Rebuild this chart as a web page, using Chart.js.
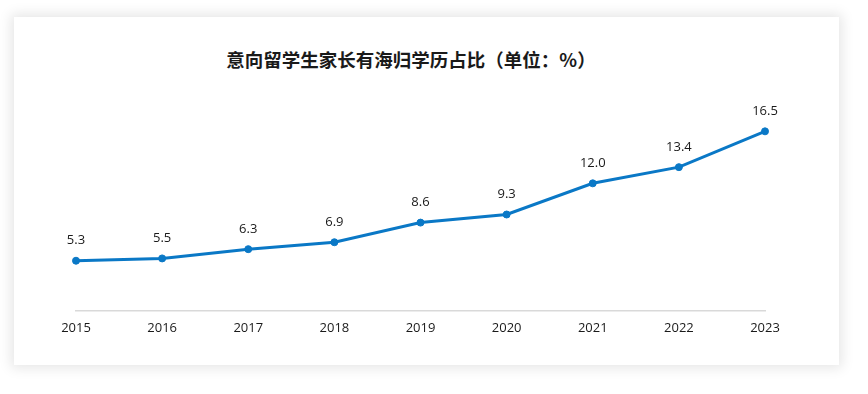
<!DOCTYPE html>
<html>
<head>
<meta charset="utf-8">
<script src="https://cdn.jsdelivr.net/npm/chart.js@4.4.0/dist/chart.umd.min.js"></script>
<style>
  html, body { margin: 0; padding: 0; background: #ffffff; width: 868px; height: 394px; overflow: hidden; }
  #card { position: absolute; left: 14px; top: 17px; width: 825px; height: 348px; background: #fff;
          box-shadow: 0 0 12px 3px rgba(0,0,0,0.10); }
  #title { position: absolute; left: 0; width: 822px; top: 47px; text-align: center;
           font-family: "Noto Sans CJK SC", "Microsoft YaHei", sans-serif; font-weight: 700;
           font-size: 18.5px; color: #1a1a1a; line-height: 24px; }
  #wrap { position: absolute; left: 0; top: 0; width: 868px; height: 394px; }
</style>
</head>
<body>
<div id="card"></div>
<div id="title">意向留学生家长有海归学历占比（单位：%）</div>
<div id="wrap"><canvas id="c" width="868" height="394"></canvas></div>
<script>
const years = ["2015", "2016", "2017", "2018", "2019", "2020", "2021", "2022", "2023"];
const shares = [5.3, 5.5, 6.3, 6.9, 8.6, 9.3, 12.0, 13.4, 16.5];

const labelPlugin = {
  id: 'valueLabels',
  afterDatasetsDraw(chart) {
    const ctx = chart.ctx;
    const meta = chart.getDatasetMeta(0);
    ctx.save();
    ctx.font = '13px "Open Sans", "DejaVu Sans", sans-serif';
    ctx.fillStyle = '#1a1a1a';
    ctx.textAlign = 'center';
    ctx.textBaseline = 'middle';
    meta.data.forEach((pt, i) => {
      ctx.fillText(shares[i].toFixed(1), pt.x, pt.y - 20);
    });
    ctx.restore();
  }
};

new Chart(document.getElementById('c'), {
  type: 'line',
  data: {
    labels: years,
    datasets: [{
      data: shares,
      borderColor: '#0a78c6',
      backgroundColor: '#0a78c6',
      borderWidth: 3,
      pointRadius: 3.5,
      pointBackgroundColor: '#0a78c6',
      pointBorderColor: '#0a78c6',
      pointBorderWidth: 1,
      tension: 0,
      clip: false
    }]
  },
  options: {
    responsive: false,
    animation: false,
    devicePixelRatio: 1,
    layout: { padding: { left: 76, right: 103, top: 114, bottom: 48 } },
    plugins: { legend: { display: false }, tooltip: { enabled: false }, title: { display: false } },
    scales: {
      x: {
        offset: false,
        grid: { display: false, drawTicks: false },
        border: { display: true, color: '#d9d9d9', width: 1.5 },
        ticks: { padding: 10, color: '#1a1a1a', font: { size: 13, family: '"Open Sans", "DejaVu Sans", sans-serif' }, maxRotation: 0 }
      },
      y: {
        display: false,
        min: 1,
        max: 18
      }
    }
  },
  plugins: [labelPlugin]
});
</script>
</body>
</html>
